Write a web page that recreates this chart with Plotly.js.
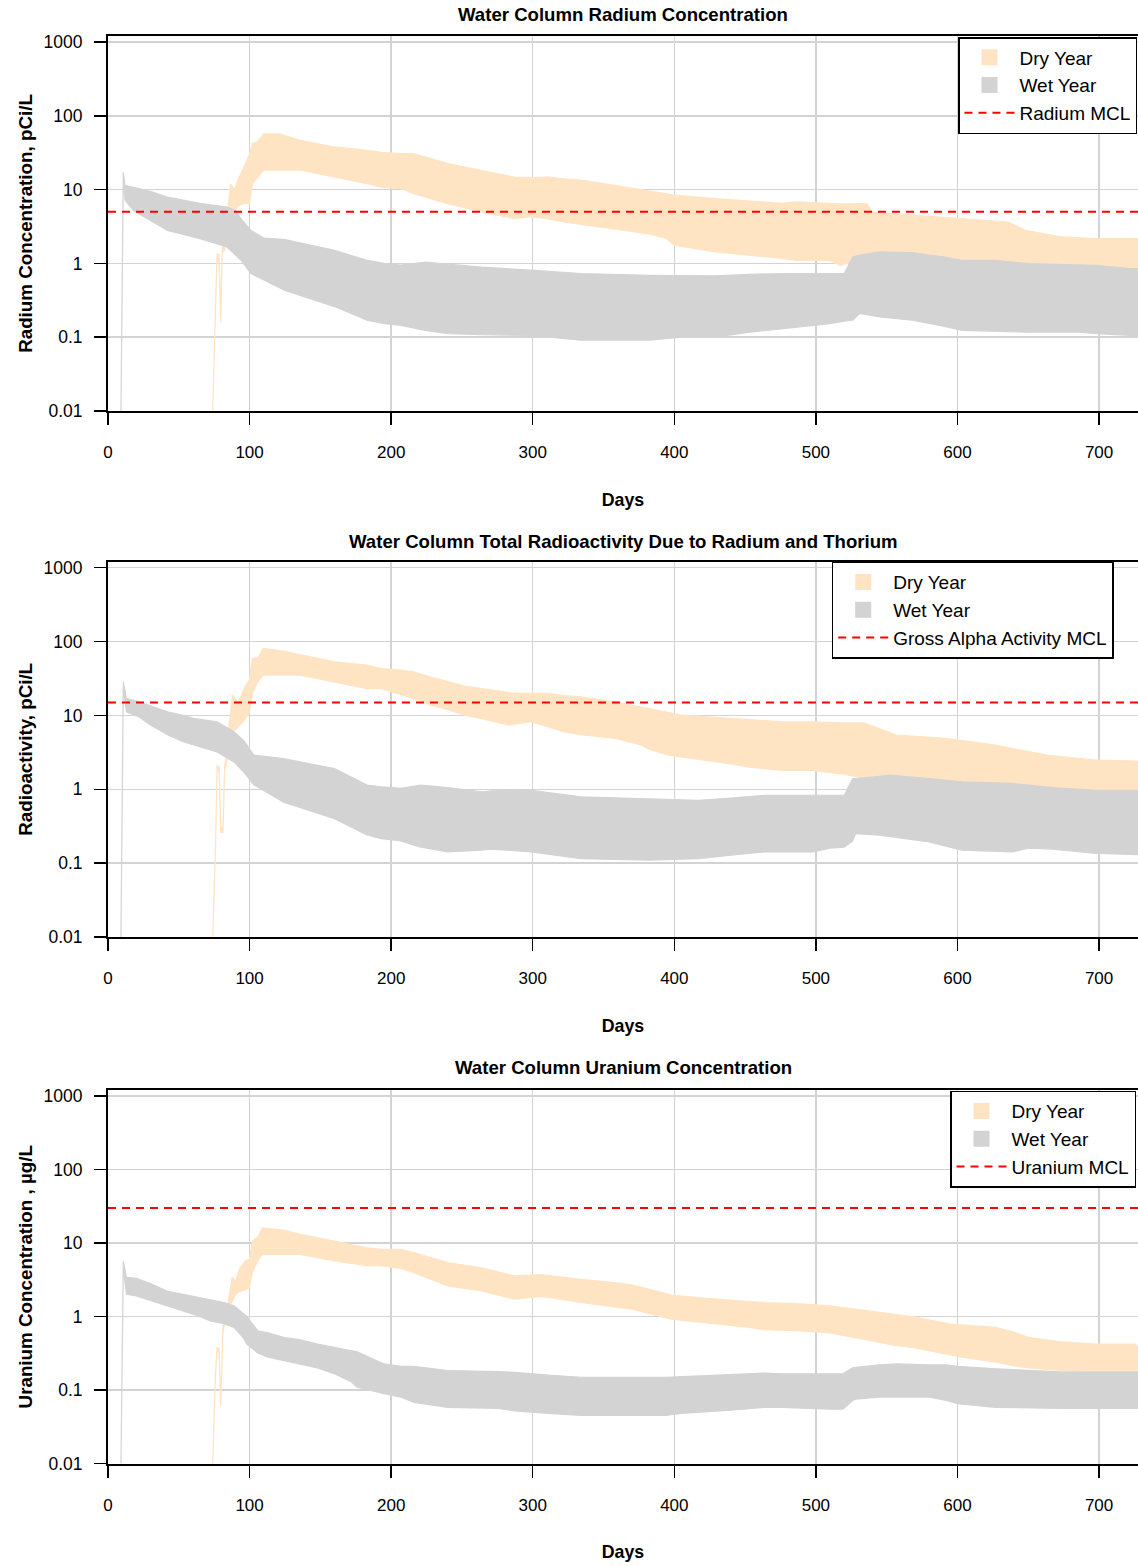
<!DOCTYPE html>
<html>
<head>
<meta charset="utf-8">
<script src="https://cdn.plot.ly/plotly-3.0.1.min.js"></script>
<style>html,body{margin:0;padding:0;background:#fff;overflow:hidden;}</style>
</head>
<body>
<div id="chart" style="width:1138px;height:1566px;"></div>
<script>
// ---------------- DATA ----------------
const panelTitles = ["Water Column Radium Concentration",
  "Water Column Total Radioactivity Due to Radium and Thorium",
  "Water Column Uranium Concentration"];
const yTitles = ["Radium Concentration, pCi/L", "Radioactivity, pCi/L", "Uranium Concentration , µg/L"];
const mclNames = ["Radium MCL", "Gross Alpha Activity MCL", "Uranium MCL"];
const mclValues = [5, 15, 30];
const seriesNames = ["Dry Year", "Wet Year"];
const xTickValues = [0, 100, 200, 300, 400, 500, 600, 700];
const yTickValues = [0.01, 0.1, 1, 10, 100, 1000];
const yTickLabels = ["0.01", "0.1", "1", "10", "100", "1000"];

// Panel 1: Radium
const radWetDays = [9, 10.8, 12, 18, 30, 42, 65, 84, 90, 94, 101, 110, 125, 160, 183, 195, 207, 224, 240, 264, 299, 334, 382, 405, 429, 453, 476, 510, 520, 526, 531, 545, 568, 580, 591, 603, 627, 650, 686, 698, 722, 731];
const radWetHigh = [0.005, 17.3, 11.4, 10.8, 9.5, 7.9, 6.5, 5.8, 5.2, 4.0, 2.8, 2.2, 2.1, 1.5, 1.1, 1.0, 0.95, 1.04, 0.98, 0.89, 0.81, 0.73, 0.69, 0.68, 0.68, 0.71, 0.73, 0.73, 0.73, 1.22, 1.3, 1.43, 1.4, 1.3, 1.22, 1.1, 1.1, 0.99, 0.94, 0.94, 0.85, 0.85];
const radWetLow = [0.005, 15, 7.2, 5.2, 3.8, 2.8, 2.17, 1.67, 1.3, 1.1, 0.73, 0.6, 0.43, 0.26, 0.17, 0.153, 0.145, 0.124, 0.112, 0.108, 0.106, 0.091, 0.091, 0.1, 0.1, 0.117, 0.13, 0.153, 0.165, 0.17, 0.21, 0.188, 0.17, 0.153, 0.14, 0.124, 0.12, 0.117, 0.117, 0.112, 0.106, 0.105];
const radDryDays = [73.5, 74.7, 75.9, 77, 78.5, 79.6, 80.7, 82.4, 84.3, 86.7, 89.5, 92, 96, 99.9, 102, 105.7, 110, 121, 136, 160, 183, 193, 207, 216, 240, 264, 287, 299, 311, 322, 334, 346, 358, 382, 394, 400, 429, 465, 476, 486, 510, 517, 536, 540, 568, 603, 636, 648, 674, 698, 727, 729.6];
const radDryHigh = [0.005, 0.044, 0.26, 1.37, 1.3, 0.19, 1.67, 1.8, 5.0, 12, 10, 14, 20, 30, 42, 45, 57, 57, 46.6, 37.8, 34, 32, 30.7, 30.7, 22.5, 18.3, 14.8, 14.5, 14.8, 14, 13.4, 12.4, 11.4, 9.5, 8.8, 8.4, 7.55, 6.8, 6.5, 6.8, 6.45, 6.4, 6.45, 5.0, 4.5, 4.05, 3.64, 2.8, 2.28, 2.17, 2.17, 2.0];
const radDryLow = [0.005, 0.04, 0.24, 1.2, 1.0, 0.16, 1.4, 1.5, 4.0, 5.2, 5.2, 6, 6.5, 6.5, 12, 14.8, 18.3, 18.3, 18.3, 14.8, 12, 10.8, 10.3, 8.8, 6.45, 5.0, 4.05, 4.3, 4.0, 3.64, 3.4, 3.1, 2.9, 2.5, 2.2, 1.76, 1.43, 1.22, 1.17, 1.1, 1.1, 0.94, 1.2, 1.3, 1.3, 1.05, 1.0, 0.95, 0.9, 0.9, 0.85, 0.85];

// Panel 2: Total radioactivity (radium + thorium)
const alphaWetDays = [9, 10.8, 13, 22, 30, 42, 53, 60.5, 77, 89, 96, 103, 124, 160, 183, 193, 207, 216, 221, 240, 264, 271, 299, 334, 382, 417, 440, 464, 498, 510, 520, 526, 528, 545, 552, 580, 603, 639, 650, 667, 698, 731];
const alphaWetHigh = [0.005, 28.5, 17, 15.3, 13.5, 11.2, 10, 9.1, 8.2, 6.0, 4.5, 2.9, 2.6, 1.9, 1.14, 1.08, 1.03, 1.1, 1.14, 1.05, 0.92, 0.95, 0.97, 0.79, 0.75, 0.71, 0.76, 0.83, 0.83, 0.83, 0.83, 1.4, 1.4, 1.5, 1.55, 1.4, 1.26, 1.2, 1.14, 1.05, 0.97, 0.97];
const alphaWetLow = [0.005, 24, 11.2, 9.5, 7.4, 5.5, 4.4, 4.0, 3.2, 2.35, 1.7, 1.15, 0.67, 0.40, 0.24, 0.215, 0.20, 0.175, 0.165, 0.142, 0.15, 0.155, 0.142, 0.115, 0.11, 0.115, 0.128, 0.142, 0.142, 0.16, 0.165, 0.2, 0.25, 0.24, 0.23, 0.194, 0.15, 0.142, 0.16, 0.155, 0.135, 0.13];
const alphaDryDays = [73.5, 75.9, 77, 78.5, 79.6, 81.2, 82.4, 84, 85.5, 88, 92, 97, 99.9, 102, 105.7, 109.6, 124, 136, 160, 183, 193, 207, 216, 228, 240, 252, 264, 283, 287, 299, 311, 322, 334, 358, 377, 382, 396, 405, 429, 440, 453, 476, 498, 510, 520, 534, 557, 592, 627, 663, 698, 727, 729.6];
const alphaDryHigh = [0.005, 0.158, 2.1, 2.0, 0.3, 0.3, 2.1, 2.9, 7.4, 18.8, 15, 25, 30, 59, 60, 81, 74, 66, 53, 48, 43, 41, 39, 33, 28.5, 25, 23, 20.5, 19.9, 19.9, 19.9, 18.5, 17.9, 15.3, 13, 12.4, 11, 10.1, 9.4, 9.1, 8.8, 8.2, 8.2, 8.0, 7.9, 7.9, 5.4, 4.9, 3.96, 2.9, 2.48, 2.4, 2.3];
const alphaDryLow = [0.005, 0.14, 1.8, 1.7, 0.26, 0.26, 1.8, 2.4, 5, 6, 7, 9, 11.2, 20, 28.5, 35, 35, 35, 28.5, 23, 23, 19, 17, 13.8, 12, 10.1, 9, 7.4, 7.6, 8.2, 7, 6.0, 5.5, 4.9, 3.96, 3.5, 2.9, 2.7, 2.35, 2.2, 2.0, 1.8, 1.8, 1.68, 1.6, 1.4, 1.45, 1.3, 1.15, 1.05, 0.95, 0.95, 0.95];

// Panel 3: Uranium
const uranWetDays = [9, 10.8, 13, 20, 30, 42, 53, 65, 72, 82, 89, 96, 98, 105.7, 113, 124, 136, 148, 160, 171.6, 176, 195, 207, 216, 240, 276, 287, 311, 334, 394, 405, 417, 440, 464, 476, 510, 519, 526, 528, 545, 557, 580, 592, 600, 627, 674, 698, 731];
const uranWetHigh = [0.005, 5.7, 3.4, 3.3, 2.8, 2.2, 2.0, 1.8, 1.7, 1.55, 1.4, 1.08, 1.0, 0.64, 0.6, 0.52, 0.48, 0.42, 0.38, 0.34, 0.33, 0.226, 0.21, 0.21, 0.184, 0.178, 0.174, 0.16, 0.149, 0.149, 0.152, 0.156, 0.165, 0.17, 0.166, 0.166, 0.166, 0.2, 0.204, 0.22, 0.226, 0.22, 0.22, 0.21, 0.194, 0.176, 0.176, 0.176];
const uranWetLow = [0.005, 4.8, 2.0, 1.9, 1.63, 1.4, 1.19, 1.0, 0.87, 0.8, 0.71, 0.5, 0.42, 0.32, 0.28, 0.25, 0.226, 0.2, 0.166, 0.13, 0.109, 0.089, 0.08, 0.068, 0.058, 0.056, 0.052, 0.048, 0.045, 0.045, 0.048, 0.05, 0.053, 0.058, 0.058, 0.055, 0.055, 0.072, 0.075, 0.08, 0.08, 0.08, 0.072, 0.065, 0.058, 0.056, 0.056, 0.056];
const uranDryDays = [73.5, 75.9, 77, 78.5, 79.6, 81.2, 83, 85, 87.7, 90, 93, 97, 99.9, 102, 105.7, 109, 124, 136, 160, 183, 193, 207, 216, 240, 264, 287, 306, 334, 358, 370, 382, 398, 417, 429, 453, 464, 486, 510, 538, 557, 568, 595, 603, 627, 639, 650, 674, 698, 726, 729.6];
const uranDryHigh = [0.005, 0.166, 0.38, 0.36, 0.065, 0.71, 1.1, 1.63, 3.4, 3.0, 4.5, 5.7, 6, 10.6, 12, 16, 15, 13.1, 10.6, 8.6, 8.2, 8.2, 7.4, 5.4, 4.6, 3.56, 3.7, 3.2, 2.9, 2.7, 2.35, 1.95, 1.8, 1.72, 1.6, 1.55, 1.5, 1.4, 1.19, 1.08, 1.0, 0.79, 0.77, 0.71, 0.62, 0.52, 0.45, 0.42, 0.42, 0.3];
const uranDryLow = [0.005, 0.15, 0.34, 0.32, 0.06, 0.6, 0.9, 1.3, 1.6, 2.0, 2.2, 2.3, 2.47, 4, 5.7, 7.0, 7.0, 7.0, 5.7, 4.9, 4.86, 4.5, 3.95, 2.6, 2.23, 1.72, 1.88, 1.55, 1.35, 1.26, 1.1, 0.92, 0.83, 0.8, 0.71, 0.66, 0.64, 0.6, 0.47, 0.4, 0.38, 0.3, 0.28, 0.24, 0.215, 0.2, 0.184, 0.176, 0.176, 0.176];

// ---------------- STYLE ----------------
const FONT = "Liberation Sans, Arial, Helvetica, sans-serif";
const DRY = "#FFE4C4";
const WET = "#D3D3D3";
const GRID = "#D3D3D3";
const X_MAX = 727.5;

const panels = [
  {wd: radWetDays, wh: radWetHigh, wl: radWetLow, dd: radDryDays, dh: radDryHigh, dl: radDryLow},
  {wd: alphaWetDays, wh: alphaWetHigh, wl: alphaWetLow, dd: alphaDryDays, dh: alphaDryHigh, dl: alphaDryLow},
  {wd: uranWetDays, wh: uranWetHigh, wl: uranWetLow, dd: uranDryDays, dh: uranDryHigh, dl: uranDryLow}
];

// pixel layout (figure 1138 x 1566, margins l=108, r=0, t=0, b=0)
const H = 1566;
const boxes = [[36, 411], [561.7, 937], [1090, 1463.5]];   // top, bottom px
const legendPos = [[958, 37], [831.7, 561.7], [950, 1090.7]];
const titleY = [15, 541, 1067];

function band(days, hi, lo) {
  return {x: days.concat(days.slice().reverse()), y: hi.concat(lo.slice().reverse())};
}

const traces = [];
const layout = {
  width: 1138, height: 1566,
  margin: {l: 108, r: 0, t: 0, b: 0, autoexpand: false},
  paper_bgcolor: "#fff", plot_bgcolor: "#fff",
  showlegend: true,
  font: {family: FONT, color: "#000"},
  annotations: []
};

panels.forEach((p, i) => {
  const n = i === 0 ? "" : String(i + 1);
  const xa = "x" + n, ya = "y" + n;
  const lg = "legend" + n;
  const w = band(p.wd, p.wh, p.wl);
  const d = band(p.dd, p.dh, p.dl);
  traces.push({x: d.x, y: d.y, xaxis: xa, yaxis: ya, type: "scatter", mode: "lines",
    fill: "toself", fillcolor: DRY, line: {color: DRY, width: 1.2}, showlegend: false, hoverinfo: "skip"});
  traces.push({x: w.x, y: w.y, xaxis: xa, yaxis: ya, type: "scatter", mode: "lines",
    fill: "toself", fillcolor: WET, line: {color: WET, width: 1.2}, showlegend: false, hoverinfo: "skip"});
  // legend entries
  traces.push({x: [null], y: [null], xaxis: xa, yaxis: ya, type: "scatter", mode: "markers",
    name: seriesNames[0], marker: {symbol: "square", size: 16, color: DRY}, legend: lg, showlegend: true});
  traces.push({x: [null], y: [null], xaxis: xa, yaxis: ya, type: "scatter", mode: "markers",
    name: seriesNames[1], marker: {symbol: "square", size: 16, color: WET}, legend: lg, showlegend: true});
  traces.push({x: [0, X_MAX], y: [mclValues[i], mclValues[i]], xaxis: xa, yaxis: ya, type: "scatter",
    mode: "lines", name: mclNames[i], line: {color: "#FF0000", width: 2, dash: "8px,6px"},
    legend: lg, showlegend: true, hoverinfo: "skip"});

  const top = boxes[i][0], bot = boxes[i][1];
  layout["xaxis" + n] = {
    domain: [0, 1], range: [0, X_MAX], anchor: ya,
    tickvals: xTickValues, ticktext: xTickValues.map(String),
    ticks: "outside", ticklen: 12, tickwidth: 1.5, tickcolor: "#000",
    ticklabelstandoff: 13,
    showline: true, linecolor: "#000", linewidth: 2, mirror: true,
    showgrid: true, gridcolor: GRID, gridwidth: 1.5, zeroline: false,
    tickfont: {family: FONT, size: 17, color: "#000"},
    title: {text: "Days", font: {family: FONT, size: 17.8, color: "#000", weight: "bold"}, standoff: 32}
  };
  layout["yaxis" + n] = {
    domain: [1 - bot / H, 1 - top / H], type: "log", range: [-2, 3.081], anchor: xa,
    tickvals: yTickValues, ticktext: yTickLabels,
    ticks: "outside", ticklen: 12, tickwidth: 1.5, tickcolor: "#000",
    ticklabelstandoff: 8,
    showline: true, linecolor: "#000", linewidth: 2, mirror: false,
    showgrid: true, gridcolor: GRID, gridwidth: 1.5, zeroline: false,
    tickfont: {family: FONT, size: 17.5, color: "#000"},
    title: {text: yTitles[i], font: {family: FONT, size: 18.8, color: "#000", weight: "bold"}, standoff: 6}
  };
  layout[lg] = {
    x: (legendPos[i][0] - 108) / 1030, y: 1 - legendPos[i][1] / H,
    xanchor: "left", yanchor: "top",
    bgcolor: "#fff", bordercolor: "#000", borderwidth: 1.5,
    font: {family: FONT, size: 19, color: "#000"},
    itemwidth: 50, tracegroupgap: 0, traceorder: "normal"
  };
  layout.annotations.push({
    text: panelTitles[i], xref: "paper", yref: "paper", x: 0.5, y: 1 - titleY[i] / H,
    xanchor: "center", yanchor: "middle", showarrow: false,
    font: {family: FONT, size: 18.6, color: "#000", weight: "bold"}
  });
});

Plotly.newPlot("chart", traces, layout, {staticPlot: true, displayModeBar: false});
</script>
</body>
</html>
